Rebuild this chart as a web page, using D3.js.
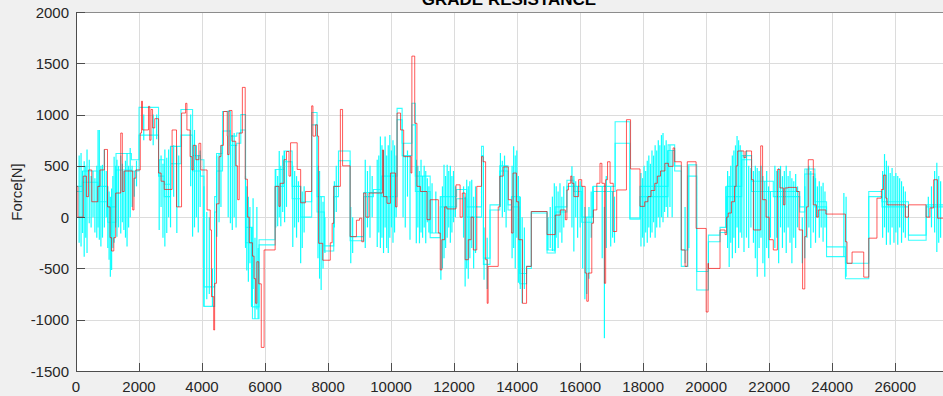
<!DOCTYPE html>
<html>
<head>
<meta charset="utf-8">
<script src="https://cdn.jsdelivr.net/npm/d3@7"></script>
<style>
  html, body { margin: 0; padding: 0; background: #f0f0f0; }
  svg { display: block; font-family: "Liberation Sans", Arial, sans-serif; }
</style>
</head>
<body>
<svg id="chart" width="943" height="396"></svg>
<script>
// Axis ticks
const xTicks = [0, 2000, 4000, 6000, 8000, 10000, 12000, 14000, 16000, 18000, 20000, 22000, 24000, 26000];
const yTicks = [-1500, -1000, -500, 0, 500, 1000, 1500, 2000];

// Reference profile (red, stepped)
const redX = [0, 60, 230, 330, 400, 500, 690, 760, 900, 1000, 1080, 1130, 1200, 1260, 1420, 1470, 1530, 1800, 1840, 1900,
  2040, 2080, 2110, 2300, 2340, 2380, 2430, 2500, 2620, 2700, 2800, 3050, 3190, 3350, 3480, 3520, 3620, 3680, 3720, 3800,
  3900, 3960, 4100, 4160, 4260, 4300, 4370, 4400, 4460, 4540, 4600, 4680, 4800, 4810, 4860, 4950, 5070, 5130, 5180, 5280,
  5370, 5440, 5500, 5600, 5650, 5700, 5740, 5800, 5880, 5970, 6320, 6440, 6480, 6600, 6680, 6760, 6810, 7020, 7130, 7280,
  7480, 7520, 7600, 7660, 7700, 7830, 8070, 8130, 8180, 8390, 8460, 8700, 8900, 9000, 9070, 9130, 9200, 9300, 9730, 9760,
  9870, 9980, 10140, 10190, 10300, 10400, 10630, 10660, 10750, 10820, 10930, 11140, 11240, 11500, 11560, 11610, 11700, 11770, 12060, 12190,
  12260, 12350, 12450, 12540, 12610, 12720, 12870, 12920, 13000, 13050, 13080, 13400, 13450, 13560, 13720, 13820, 13870, 13980, 14050, 14170,
  14300, 14450, 14950, 15210, 15370, 15530, 15580, 15630, 15700, 15740, 15800, 15950, 16050, 16160, 16210, 16260, 16370, 16420, 16530, 16630,
  16690, 16770, 16810, 16870, 16950, 17050, 17160, 17470, 17600, 17900, 18050, 18150, 18250, 18370, 18450, 18550, 18690, 18800, 18950, 19000,
  19210, 19330, 19400, 19680, 20000, 20060, 20070, 20440, 20600, 20650, 20700, 20800, 20900, 20950, 21000, 21200, 21260, 21440, 21500, 21730,
  21790, 21900, 22000, 22130, 22260, 22340, 22450, 22500, 22600, 22870, 22950, 23060, 23130, 23180, 23240, 23400, 23500, 23560, 23800, 24420,
  24470, 24630, 25000, 25160, 25420, 25560, 25630, 25700, 25740, 26320, 26420, 26980, 27100, 27220, 27340, 27520];
const redY = [300, 0, 400, 200, 460, 150, 300, 460, 660, 100, -200, -330, -200, 235, 820, 250, 450, 70, 380, 460,
  820, 1130, 850, 1080, 750, 1050, 870, 960, 430, 350, 270, 850, 100, 1015, 1110, 850, 590, 460, 700, 560,
  720, 460, 460, 70, -125, -775, -1100, -645, 130, 590, 700, 1030, 790, 610, 1040, 740, 500, 170, 820, 1265,
  370, 0, -250, -380, -600, -840, -435, -650, -1270, -320, 300, 105, 330, 560, 640, 400, 725, 465, 140, 250,
  1085, 790, 900, 790, -255, -420, -250, -60, 300, 1050, 500, -190, -30, -10, -240, 235, 0, 235, 655, 200,
  135, 430, 100, 1015, 850, 590, 430, 1570, 915, 300, 250, -25, 170, -155, -515, -220, 100, 80, 315, 0,
  235, -415, -220, 0, -320, 300, 590, 540, -415, -840, -480, 100, 400, 490, 170, -155, 430, 150, -220, -840,
  -480, 55, -170, 20, 70, -25, 265, 330, 400, 330, 200, 365, 300, -545, -820, -545, -60, 70, 330, 525,
  330, -645, 365, 540, 330, -140, 265, 950, 470, 105, 150, 200, 260, 330, 400, 450, 525, 495, 675, 540,
  -320, -480, 540, -110, -925, -450, -500, -125, -170, 0, 40, 150, 300, 500, 645, 580, 645, 365, -125, 695,
  170, 0, -220, -320, 465, 285, 120, 285, 290, 250, -125, -700, -190, 100, 560, 120, 0, 70, 30, -240,
  -450, -340, -585, -205, 185, 270, 410, 185, 120, 0, 120, 0, 90, 365, -10, -10];

// Simulated runs (cyan): upper and lower plateau levels of the band
const cyanX = [0, 200, 700, 1000, 1270, 1760, 2000, 2620, 2800, 3000, 3330, 3700, 3950, 4060, 4400, 4460, 4650, 4900, 5100, 5230,
  5380, 5600, 5810, 6320, 6600, 6860, 7130, 7480, 7650, 7880, 8180, 8330, 8700, 9130, 9440, 9700, 10190, 10350, 10660, 10770,
  11240, 11560, 12080, 12400, 12870, 12930, 13140, 13450, 13710, 13820, 14080, 14300, 14450, 14950, 15210, 15580, 15800, 16050, 16420, 16950,
  17110, 17580, 17900, 18790, 19000, 19210, 19420, 19700, 20070, 20440, 20650, 21130, 21440, 22130, 22970, 23130, 23450, 23820, 24420, 25160,
  25580, 26420, 26980, 27520];
const cyanHi = [300, 450, 300, 100, 620, 560, 1070, 560, 320, 690, 1050, 600, 560, -680, 200, 620, 1030, 790, 820, 1000,
  -100, -875, -220, 465, 645, 300, 150, 1020, 200, -280, 300, 645, -190, 240, 270, 400, 1060, 720, 1110, 400,
  -155, 200, 270, 100, 690, -400, 120, 500, 120, 200, -550, -480, 55, -320, 100, 360, 300, 0, 300, 300,
  930, -10, 300, 705, 500, -320, 510, -530, -175, -100, 300, 600, 350, 250, 100, 470, 150, -290, -450, 250,
  150, -175, 120, 120];
const cyanLo = [250, 340, 150, -50, 460, 450, 800, 400, 200, 520, 800, 450, 400, -870, 50, 450, 840, 700, 720, 850,
  -250, -990, -270, 300, 540, 180, 0, 900, 50, -330, 200, 550, -230, 200, 240, 200, 950, 600, 900, 250,
  -200, 100, 180, 0, 600, -460, 70, 450, 70, 100, -650, -500, 40, -350, 50, 300, 250, -50, 250, 250,
  720, -20, 200, 650, 450, -480, 400, -710, -240, -150, 200, 560, 250, 200, 50, 420, 100, -385, -600, 200,
  100, -225, 100, 100];

// Fast excursions of the runs: position, lowest and highest value
const spikeX = [100, 160, 210, 260, 310, 350, 420, 480, 540, 600, 660, 700, 740, 790, 840, 900, 960, 1010, 1050, 1090,
  1130, 1170, 1210, 1260, 1300, 1350, 1420, 1470, 1520, 1570, 1620, 1670, 1720, 1780, 1850, 1920, 2150, 2450, 2560, 2640,
  2700, 2760, 2820, 2880, 2940, 3000, 3100, 3200, 3260, 3640, 3700, 3760, 3820, 3880, 3940, 4060, 4150, 4230, 4330, 4470,
  4540, 4600, 4830, 4900, 4960, 5020, 5080, 5380, 5420, 5470, 5520, 5570, 5620, 5680, 5740, 5780, 6340, 6400, 6450, 6500,
  6560, 6620, 6680, 6880, 6940, 7000, 7060, 7130, 7180, 7240, 7680, 7730, 7780, 7840, 7900, 8200, 8260, 8720, 8780, 9180,
  9250, 9330, 9400, 9560, 9610, 9660, 9710, 9760, 9810, 9860, 9910, 9960, 10010, 10060, 10110, 10160, 10380, 10450, 10520, 10600,
  10800, 10850, 10900, 10950, 11000, 11050, 11100, 11150, 11200, 11300, 11420, 11580, 11630, 11680, 11730, 11780, 11830, 11880, 11930, 11980,
  12040, 12300, 12350, 12400, 12450, 12500, 12560, 12620, 12680, 12950, 13050, 13470, 13530, 13600, 13650, 13840, 13890, 13940, 13990, 14040,
  14100, 14160, 14230, 14980, 15050, 15120, 15180, 15240, 15300, 15360, 15420, 15480, 15740, 15800, 15860, 15920, 16000, 16080, 16150, 16210,
  16280, 16350, 16400, 16700, 16770, 16830, 16970, 17030, 17090, 17930, 17980, 18030, 18080, 18130, 18180, 18230, 18280, 18330, 18380, 18430,
  18480, 18530, 18580, 18630, 18680, 18730, 18780, 18850, 18920, 19330, 19450, 20620, 20680, 20730, 20780, 20830, 20880, 20930, 20980, 21030,
  21080, 21130, 21200, 21280, 21350, 21420, 21500, 21560, 21620, 21680, 21740, 21800, 21860, 21920, 21980, 22040, 22180, 22240, 22300, 22360,
  22420, 22480, 22540, 22600, 22660, 22720, 22780, 22840, 22900, 23050, 23130, 23200, 23260, 23320, 23400, 23470, 23530, 23590, 23650, 23710,
  23770, 24370, 24440, 25600, 25660, 25720, 25780, 25840, 25900, 25960, 26020, 26080, 26140, 26200, 26260, 26320, 27050, 27150, 27250, 27320,
  27380, 27440];
const spikeLo = [-250, -285, -155, -385, -200, -350, -60, -100, 0, -150, -200, -100, -220, -285, -200, -100, 0, -300, -415, -580,
  -515, -300, -250, -100, -190, -100, -160, -50, -125, -200, -285, -100, 0, 100, 200, 300, 750, 700, 760, -125,
  100, -200, -285, -155, 0, -100, 200, -155, 100, 300, -190, -100, 0, -150, 100, -870, -800, -750, -870, -190,
  -50, 100, 0, -60, -125, 0, -100, -300, -520, -630, -450, -875, -700, -990, -900, -990, -100, -90, 0, -90,
  50, -50, 100, -290, -100, -200, -50, -450, -300, -150, -400, -600, -710, -500, -350, -100, 50, -450, -350, -300,
  -100, -200, 0, -290, -150, -300, -200, -350, -100, -300, -350, -200, -100, -250, -150, 0, 0, -100, 200, -220,
  -255, -100, -255, -150, -200, -100, -255, -50, -150, -155, -155, -610, -500, -400, -300, -200, -100, -250, -150, -50,
  0, -200, -675, -500, -600, -400, -300, -500, -350, -610, -700, 100, 0, 50, -100, -400, -300, -500, -200, -640,
  -700, -840, -700, -320, -300, -330, -335, -200, -300, -150, -250, -100, -100, -335, 0, -200, -100, -500, -800, -750,
  -600, -200, 0, -400, -1180, -300, -285, -200, -250, -285, -200, -285, -150, -250, -100, -200, -150, -50, -200, -100,
  0, -100, 0, -50, 50, 100, 0, 100, 0, -450, -300, -100, -300, -485, -250, -400, -200, -350, -100, -300,
  -150, -200, -340, -200, -300, -100, -250, -400, -580, -300, -200, -450, -580, -300, -400, -200, -300, -200, -450, -100,
  -300, -150, -350, -100, -250, -450, -200, -300, -100, -450, -400, -200, -100, -300, -150, -250, 0, -200, -100, -240,
  -100, -385, -580, -200, -100, -270, -150, -270, -100, -250, -150, -270, -100, -250, -150, -200, 0, -100, -150, -340,
  -250, -200];
const spikeHi = [600, 625, 450, 545, 500, 660, 560, 400, 450, 380, 500, 850, 850, 500, 510, 660, 450, 300, 250, 200,
  280, 400, 590, 500, 560, 500, 600, 520, 450, 550, 625, 500, 675, 500, 450, 550, 1000, 1000, 1000, 560,
  600, 520, 660, 580, 660, 690, 700, 690, 600, 1000, 700, 850, 700, 600, 650, 300, 50, 0, -500, 600,
  620, 700, 1040, 850, 800, 820, 700, 400, 300, 200, 100, -100, 185, -200, 100, -300, 465, 400, 645, 500,
  600, 645, 560, 500, 450, 400, 350, 300, 250, 300, 500, 450, 200, 150, 0, 350, 500, 100, 0, 560,
  450, 500, 400, 560, 600, 785, 700, 650, 785, 600, 700, 800, 650, 750, 700, 600, 720, 600, 650, 600,
  560, 500, 450, 560, 400, 500, 450, 380, 300, 330, 250, 200, 300, 510, 400, 510, 450, 500, 400, 450,
  300, 300, 200, 365, 300, 350, 365, 200, 300, -100, -200, 625, 550, 600, 500, 500, 690, 600, 650, 400,
  200, 0, -100, 0, 100, 200, 330, 300, 250, 330, 200, 300, 495, 400, 350, 300, 350, 300, 100, 0,
  100, 250, 300, 300, 100, 400, 300, 250, 200, 430, 380, 500, 450, 550, 600, 520, 650, 600, 700, 650,
  750, 700, 800, 820, 700, 750, 650, 700, 650, 100, 500, 300, 450, 400, 500, 600, 650, 700, 790, 750,
  700, 650, 600, 650, 500, 480, 450, 500, 480, 450, 500, 400, 350, 450, 300, 250, 500, 450, 480, 500,
  400, 450, 500, 400, 450, 380, 350, 420, 300, 0, 300, 470, 500, 450, 400, 380, 300, 350, 300, 335,
  250, 235, 200, 450, 615, 550, 500, 430, 480, 400, 430, 400, 380, 350, 300, 250, 200, 300, 450, 530,
  400, 350];

const W = 943, H = 396;
const svg = d3.select("#chart");

const x = d3.scaleLinear().domain([0, 27500]).range([76, 942.5]);
const y = d3.scaleLinear().domain([-1500, 2000]).range([371, 12]);

const plotL = x(0), plotR = W, plotT = y(2000), plotB = y(-1500);

// Plot background
svg.append("rect")
  .attr("x", plotL).attr("y", plotT)
  .attr("width", plotR - plotL).attr("height", plotB - plotT)
  .attr("fill", "#ffffff");

// Grid
const grid = svg.append("g").attr("stroke", "#dcdcdc").attr("stroke-width", 1).attr("shape-rendering", "crispEdges");
grid.selectAll(".gx").data(xTicks.filter(d => d > 0)).join("line")
  .attr("x1", d => Math.round(x(d)) + 0.5).attr("x2", d => Math.round(x(d)) + 0.5)
  .attr("y1", plotT).attr("y2", plotB);
grid.selectAll(".gy").data(yTicks.filter(d => d > -1500 && d < 2000)).join("line")
  .attr("x1", plotL).attr("x2", plotR)
  .attr("y1", d => Math.round(y(d)) + 0.5).attr("y2", d => Math.round(y(d)) + 0.5);

// Data, clipped to the axes box
svg.append("clipPath").attr("id", "clip")
  .append("rect").attr("x", plotL).attr("y", plotT).attr("width", plotR - plotL).attr("height", plotB - plotT);
const data = svg.append("g").attr("clip-path", "url(#clip)");

const stepLine = d3.line().curve(d3.curveStepAfter).x(d => x(d[0])).y(d => y(d[1]));

const cyanGroup = data.append("g").attr("fill", "none").attr("stroke", "#00ffff");
[cyanHi, cyanLo].forEach(levels => {
  cyanGroup.append("path")
    .attr("d", stepLine(cyanX.map((v, i) => [v, levels[i]])))
    .attr("stroke-width", 1.1)
    .attr("stroke-opacity", 0.8);
});
cyanGroup.selectAll("line.spike").data(spikeX.map((v, i) => ({ x: v, lo: spikeLo[i], hi: spikeHi[i] })))
  .join("line").attr("class", "spike")
  .attr("x1", d => x(d.x)).attr("x2", d => x(d.x))
  .attr("y1", d => y(d.lo)).attr("y2", d => y(d.hi))
  .attr("stroke-width", 1.2)
  .attr("stroke-opacity", 0.95);

data.append("path")
  .attr("d", stepLine(redX.map((v, i) => [v, redY[i]])))
  .attr("fill", "none")
  .attr("stroke", "#ff0000")
  .attr("stroke-opacity", 0.65)
  .attr("stroke-width", 1);

// Axes
const axisColor = "#262626";
const ax = svg.append("g").attr("shape-rendering", "crispEdges");
ax.append("line").attr("x1", plotL + 0.5).attr("x2", plotL + 0.5).attr("y1", plotT).attr("y2", plotB + 0.5)
  .attr("stroke", "#4d4d4d");
ax.append("line").attr("x1", plotL).attr("x2", plotR).attr("y1", Math.round(plotB) + 0.5).attr("y2", Math.round(plotB) + 0.5)
  .attr("stroke", "#4d4d4d");
ax.append("line").attr("x1", plotL).attr("x2", plotR).attr("y1", Math.round(plotT) + 0.5).attr("y2", Math.round(plotT) + 0.5)
  .attr("stroke", "#8c8c8c");

ax.selectAll(".tx").data(xTicks).join("line")
  .attr("x1", d => Math.round(x(d)) + 0.5).attr("x2", d => Math.round(x(d)) + 0.5)
  .attr("y1", plotB).attr("y2", plotB - 8).attr("stroke", "#4d4d4d");
ax.selectAll(".ty").data(yTicks).join("line")
  .attr("x1", plotL).attr("x2", plotL + 9)
  .attr("y1", d => Math.round(y(d)) + 0.5).attr("y2", d => Math.round(y(d)) + 0.5).attr("stroke", "#4d4d4d");

svg.append("g").selectAll("text").data(xTicks).join("text")
  .attr("x", d => x(d)).attr("y", 392)
  .attr("text-anchor", "middle").attr("font-size", 15).attr("fill", axisColor)
  .text(d => d);
svg.append("g").selectAll("text").data(yTicks).join("text")
  .attr("x", 69).attr("y", d => y(d) + 5.5)
  .attr("text-anchor", "end").attr("font-size", 15).attr("fill", axisColor)
  .text(d => d);

// Axis label and title (title sits at the top edge of the figure)
svg.append("text")
  .attr("transform", "translate(22, 192) rotate(-90)")
  .attr("text-anchor", "middle").attr("font-size", 15).attr("fill", axisColor)
  .text("Force[N]");
svg.append("text")
  .attr("x", 509).attr("y", 4.5)
  .attr("text-anchor", "middle").attr("font-size", 17).attr("font-weight", "bold").attr("fill", "#000")
  .text("GRADE RESISTANCE");
</script>
</body>
</html>
